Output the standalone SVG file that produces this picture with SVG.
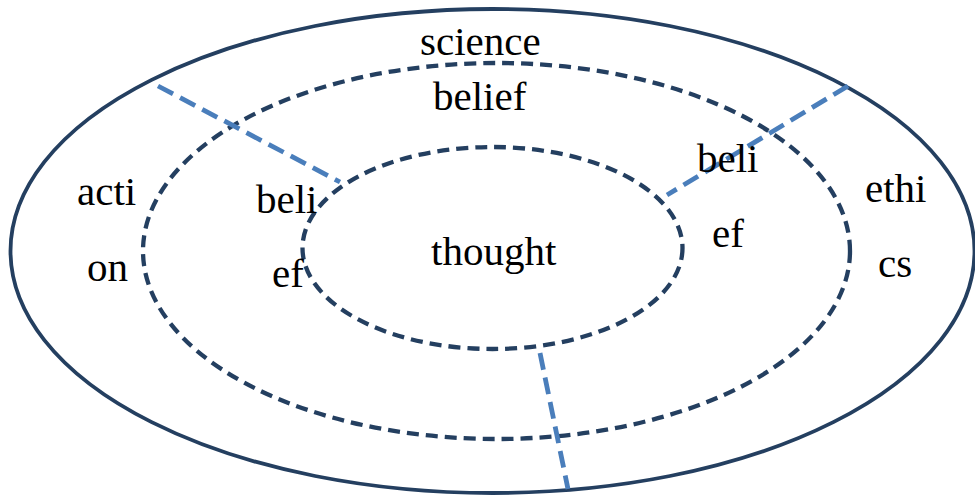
<svg xmlns="http://www.w3.org/2000/svg" width="975" height="495" viewBox="0 0 975 495">
<style>
.ring{fill:none;stroke:#243F60;stroke-width:3.8}
.dash{stroke-width:4.3;stroke-dasharray:12 7}
.div{fill:none;stroke:#4A7EBB;stroke-width:4.8;stroke-dasharray:17 8}
.t{font-family:"Times New Roman","Liberation Serif","DejaVu Serif",serif;font-size:41px;fill:#000}
</style>
<rect width="975" height="495" fill="#fff"/>
<g id="outer"><ellipse class="ring" cx="492.5" cy="251" rx="482" ry="242"/></g>
<g id="middle"><ellipse class="ring dash" cx="496.5" cy="251" rx="353.5" ry="188"/></g>
<g id="inner"><ellipse class="ring dash" cx="492.5" cy="248" rx="190" ry="101"/></g>
<g id="connectors">
<line class="div" x1="158" y1="86" x2="340" y2="182"/>
<line class="div" x1="848" y1="86" x2="667" y2="195"/>
<line class="div" x1="540" y1="353" x2="568" y2="489"/>
</g>
<g id="labels">
<text class="t" x="420" y="55">science</text>
<text class="t" x="433" y="110">belief</text>
<text class="t" x="431" y="265">thought</text>
<text class="t" x="77" y="205">acti</text>
<text class="t" x="87" y="281">on</text>
<text class="t" x="865" y="202">ethi</text>
<text class="t" x="878" y="277">cs</text>
<text class="t" x="256" y="213">beli</text>
<text class="t" x="272" y="287">ef</text>
<text class="t" x="697" y="172">beli</text>
<text class="t" x="712" y="247">ef</text>
</g>
</svg>
